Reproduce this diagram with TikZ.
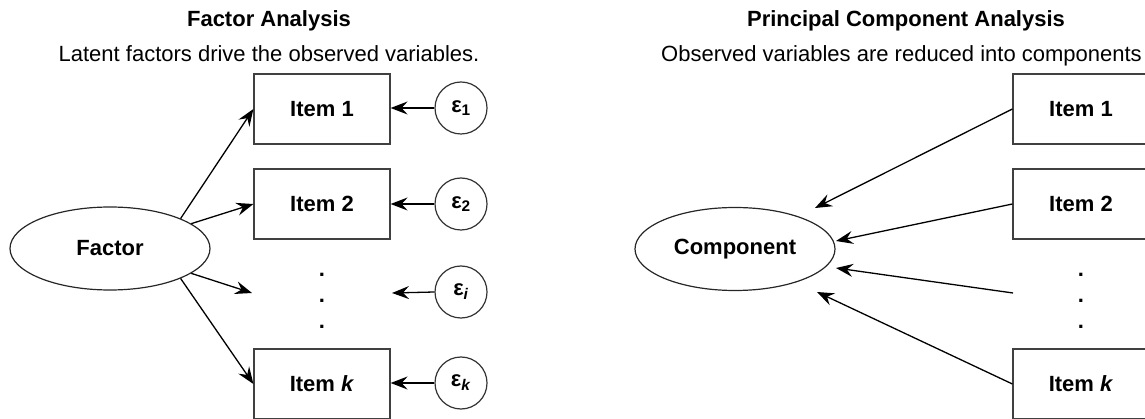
\documentclass[tikz,border=0pt]{standalone}
\usepackage{fontspec}
\setmainfont{Liberation Sans}
\usetikzlibrary{arrows.meta,shapes.geometric}
\begin{document}
\begin{tikzpicture}[x=1pt,y=-1pt,
  fnt/.style={font=\fontsize{22}{24}\selectfont},
  bfnt/.style={font=\fontsize{22}{24}\selectfont\bfseries},
  box/.style={draw=black!75, line width=1.2pt, minimum width=136pt, minimum height=70pt, inner sep=0pt, bfnt},
  lat/.style={ellipse, draw=black!85, line width=1.2pt, minimum width=200pt, minimum height=83pt, inner sep=0pt, bfnt},
  err/.style={circle, draw=black!80, line width=1.2pt, minimum size=52pt, inner sep=0pt, bfnt},
  arr/.style={draw=black, line width=1.3pt, -{Stealth[length=17pt,width=13pt,inset=6pt]}},
  dotmark/.style={inner sep=0pt, bfnt},
  ttl/.style={inner sep=0pt, bfnt, anchor=base},
  subt/.style={inner sep=0pt, fnt, anchor=base}
]
\useasboundingbox (0,0) rectangle (1145,419);
\clip (0,0) rectangle (1145,419);

% ---------- Left panel: Factor Analysis ----------
\node[ttl] (t1) at (269,27) {Factor Analysis};
\node[subt] (s1) at (269,61.5) {Latent factors drive the observed variables.};

\node[box] (L1) at (322,109) {Item 1};
\node[box] (L2) at (322,204) {Item 2};
\node[box] (Lk) at (322,384) {Item \textit{k}};
\node[dotmark] (ld1) at (322,275) {.};
\node[dotmark] (ld2) at (322,301) {.};
\node[dotmark] (ld3) at (322,327) {.};

\node[err] (e1) at (461,108) {ε\textsubscript{1}};
\node[err] (e2) at (461,204) {ε\textsubscript{2}};
\node[err] (ei) at (461,292) {ε\textsubscript{\textit{i}}};
\node[err] (ek) at (461,383) {ε\textsubscript{\textit{k}}};

\node[lat] (F) at (110,248.5) {Factor};

\coordinate (Ltip) at (252,293);
\coordinate (Eitip) at (392,293);

\draw[arr] (F.23) -- (L1.west);
\draw[arr] (F.17) -- (L2.west);
\draw[arr] (F.-17) -- (Ltip);
\draw[arr] (F.-23) -- (Lk.west);

\draw[arr] (e1.west) -- (e1.west -| L1.east);
\draw[arr] (e2.west) -- (L2.east);
\draw[arr] (ei.west) -- (Eitip);
\draw[arr] (ek.west) -- (ek.west -| Lk.east);

% ---------- Right panel: PCA ----------
\node[ttl] (t2) at (906,27) {Principal Component Analysis};
\node[subt, anchor=base west] (s2) at (661,61.5) {Observed variables are reduced into components};

\node[box] (R1) at (1081,109) {Item 1};
\node[box] (R2) at (1081,204) {Item 2};
\node[box] (Rk) at (1081,384) {Item \textit{k}};
\node[dotmark] (rd1) at (1081,275) {.};
\node[dotmark] (rd2) at (1081,301) {.};
\node[dotmark] (rd3) at (1081,327) {.};

\node[lat] (C) at (735,249) {Component};

\coordinate (Rdots) at (1013,293);
\coordinate (T1) at (815,208);
\coordinate (T2) at (836,241);
\coordinate (T3) at (836,268);
\coordinate (T4) at (817,292);

\draw[arr] (R1.west) -- (T1);
\draw[arr] (R2.west) -- (T2);
\draw[arr] (Rdots) -- (T3);
\draw[arr] (Rk.west) -- (T4);
\end{tikzpicture}
\end{document}
